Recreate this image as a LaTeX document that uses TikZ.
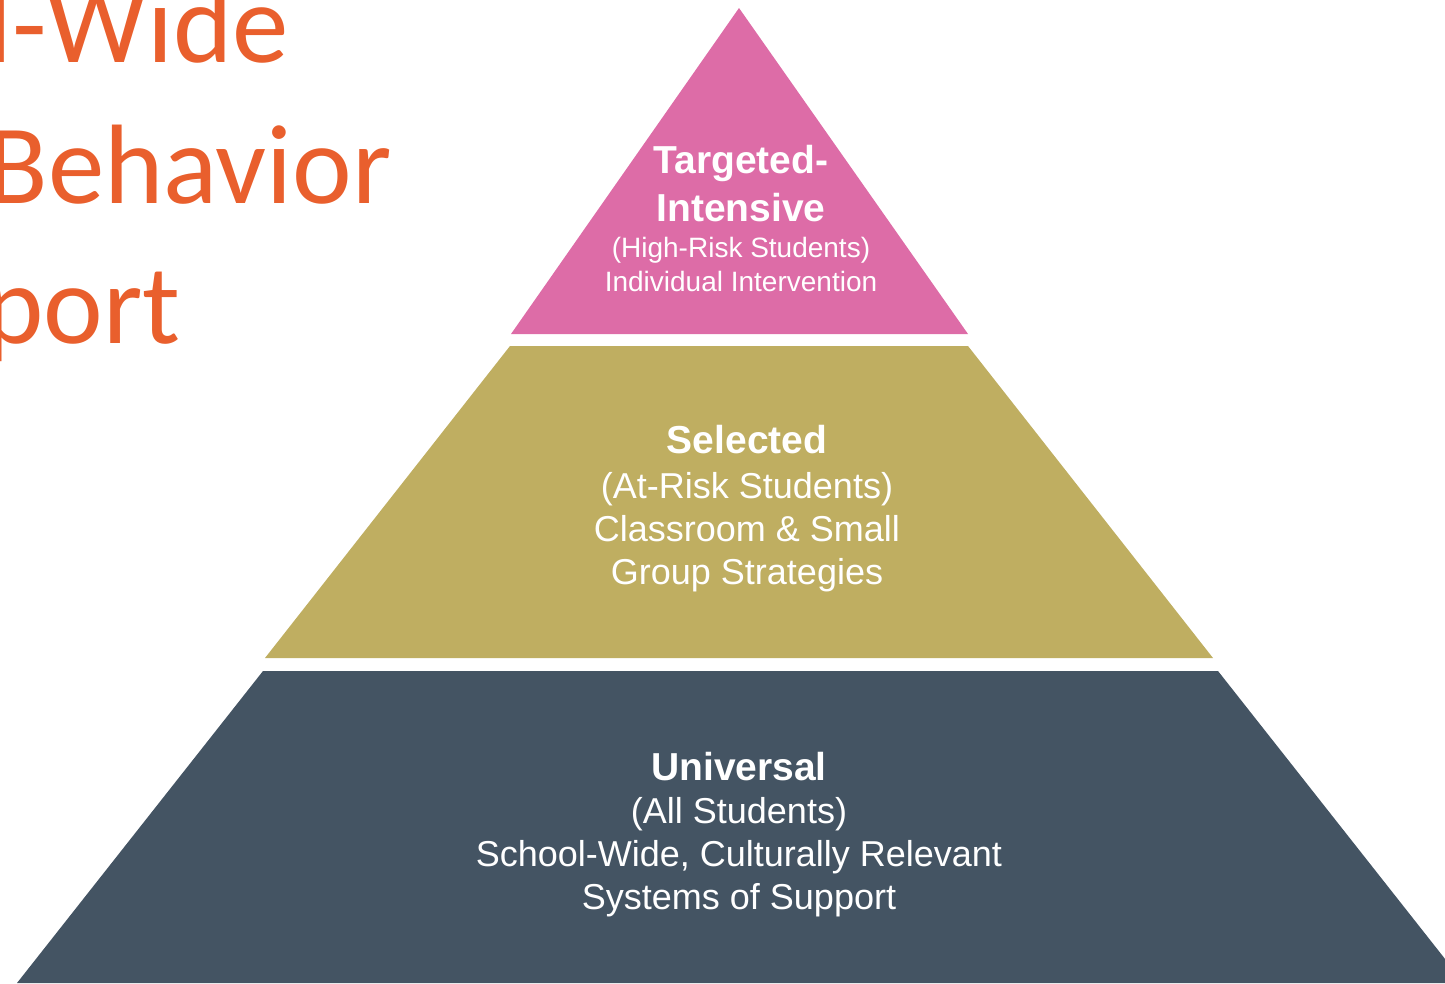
\documentclass[tikz,border=0pt]{standalone}
\usepackage{fontspec}
\newfontfamily\tierfont{Liberation Sans}
\newfontfamily\titlefont{Carlito}
\definecolor{tierpink}{HTML}{DD6CA7}
\definecolor{tierolive}{HTML}{BFAE61}
\definecolor{tierslate}{HTML}{445463}
\definecolor{titleorange}{HTML}{E95F2D}
\tikzset{
  tierhead/.style={text=white, inner sep=0pt, anchor=base,
    font=\tierfont\bfseries\fontsize{39}{47}\selectfont},
  tiersub/.style={text=white, inner sep=0pt, anchor=base,
    font=\tierfont\fontsize{36}{43}\selectfont},
  tiersmall/.style={text=white, inner sep=0pt, anchor=base,
    font=\tierfont\fontsize{28}{34}\selectfont},
  titleline/.style={text=titleorange, inner sep=0pt, anchor=base east,
    font=\titlefont\fontsize{113}{141}\selectfont},
}
\begin{document}
\begin{tikzpicture}[x=1pt,y=-1pt]
  \useasboundingbox (0,0) rectangle (1445,983);
  \clip (0,0) rectangle (1445,983);

  % pyramid tiers
  \fill[tierpink]  (739,8) -- (968,334) -- (511,334) -- cycle;
  \fill[tierolive] (510,346) -- (968,346) -- (1213,658) -- (265,658) -- cycle;
  \fill[tierslate] (263,671) -- (1218,671) -- (1464,983) -- (17,983) -- cycle;

  % heading, running off the left edge
  \node[titleline] (t1) at (289,62)  {l-Wide};
  \node[titleline] (t2) at (392,203) {Behavior};
  \node[titleline] (t3) at (181,343) {port};

  % top tier
  \node[tierhead]  (a1) at (741,173) {Targeted-};
  \node[tierhead]  (a2) at (741,221) {Intensive};
  \node[tiersmall] (a3) at (741,257) {(High-Risk Students)};
  \node[tiersmall] (a4) at (741,291) {Individual Intervention};

  % middle tier
  \node[tierhead] (b1) at (747,453) {Selected};
  \node[tiersub]  (b2) at (747,498) {(At-Risk Students)};
  \node[tiersub]  (b3) at (747,541) {Classroom \& Small};
  \node[tiersub]  (b4) at (747,584) {Group Strategies};

  % bottom tier
  \node[tierhead] (c1) at (739,780) {Universal};
  \node[tiersub]  (c2) at (739,823) {(All Students)};
  \node[tiersub]  (c3) at (739,866) {School-Wide, Culturally Relevant};
  \node[tiersub]  (c4) at (739,909) {Systems of Support};
\end{tikzpicture}
\end{document}
